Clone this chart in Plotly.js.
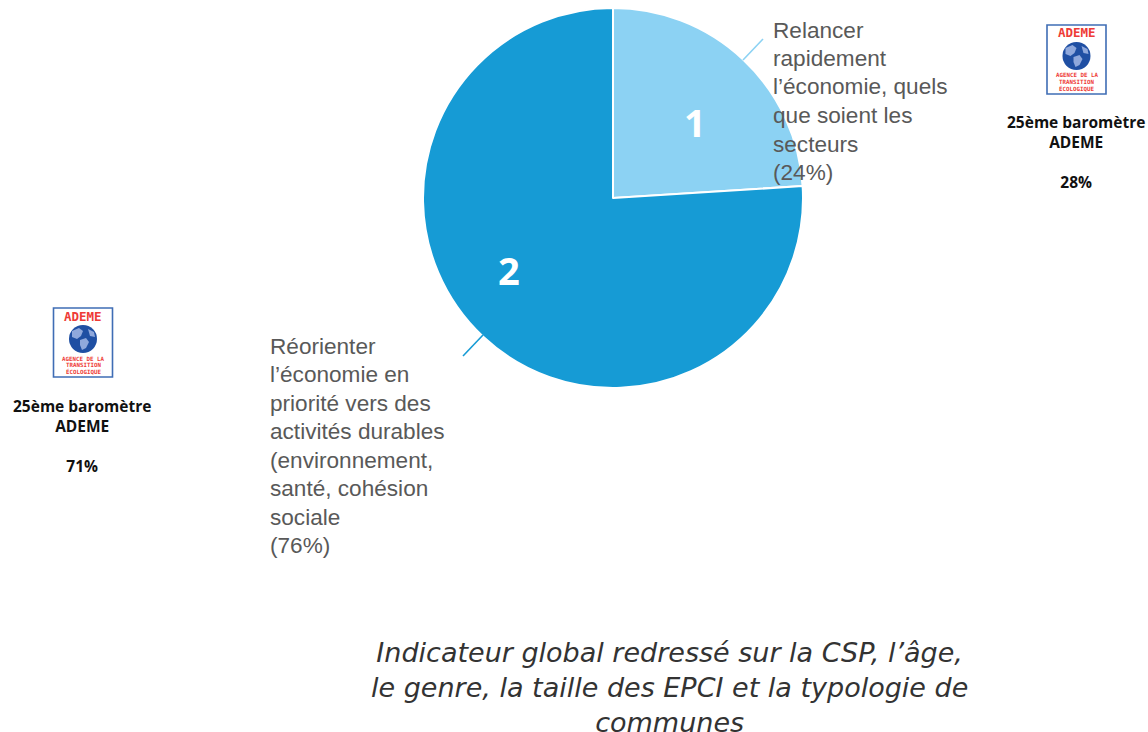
<!DOCTYPE html>
<html><head><meta charset="utf-8">
<script src="https://cdn.plot.ly/plotly-3.0.1.min.js"></script>
<style>html,body{margin:0;padding:0;background:#fff}#c{width:1148px;height:732px}</style>
</head><body><div id="c"></div>
<script>
const sliceIds = ['1','2'];
const sliceValues = [24,76];
const sliceColors = ['#8CD2F3','#169BD5'];
const labelOne = ['Relancer','rapidement','l’économie, quels','que soient les','secteurs','(24%)'];
const labelTwo = ['Réorienter','l’économie en','priorité vers des','activités durables','(environnement,','santé, cohésion','sociale','(76%)'];
const noteLines = ['Indicateur global redressé sur la CSP, l’âge,','le genre, la taille des EPCI et la typologie de','communes'];
const baroRight = ['25ème baromètre','ADEME',' ','28%'];
const baroLeft = ['25ème baromètre','ADEME',' ','71%'];
const W=1148,H=732;
const px=x=>x/W, py=y=>1-y/H;
const annotations=[], shapes=[];
function txt(x,y,t,size,color,fam,anchor){
  annotations.push({xref:'paper',yref:'paper',x:px(x),y:py(y),text:t,showarrow:false,
    xanchor:anchor,yanchor:'middle',align:anchor==='center'?'center':'left',
    font:{size:size,color:color,family:fam},borderpad:0,borderwidth:0});
}
const body='Liberation Sans, Arial, sans-serif';
const gothic='Open Sans, sans-serif';
labelOne.forEach((t,i)=>txt(773,30+i*28.5,t,22.6,'#595959',body,'left'));
labelTwo.forEach((t,i)=>txt(270,346+i*28.5,t,22.6,'#595959',body,'left'));
txt(669,687.5,noteLines.map(t=>'<i>'+t+'</i>').join('<br>'),27,'#333333','DejaVu Sans, sans-serif','center');
txt(695,122,'<b>'+sliceIds[0]+'</b>',38,'#fff',gothic,'center');
txt(509,270,'<b>'+sliceIds[1]+'</b>',38,'#fff',gothic,'center');
function line(x0,y0,x1,y1,c){shapes.push({type:'line',xref:'paper',yref:'paper',x0:px(x0),y0:py(y0),x1:px(x1),y1:py(y1),line:{color:c,width:1.6},layer:'above'});}
line(743,60,763,39,'#8CD2F3');
line(463,356,483,335,'#169BD5');
function logo(cx,top){
  const l=cx-29.5,r=cx+29.5,b=top+69;
  shapes.push({type:'rect',xref:'paper',yref:'paper',x0:px(l),x1:px(r),y0:py(top),y1:py(b),line:{color:'#3F6DB5',width:1.6},fillcolor:'#fff',layer:'above'});
  const gy=top+31;
  shapes.push({type:'circle',xref:'paper',yref:'paper',x0:px(cx-14),x1:px(cx+14),y0:py(gy-14),y1:py(gy+14),line:{width:0},fillcolor:'#1F4FA3',layer:'above'});
  const blob=(pts)=>{const d=pts.map((p,i)=>(i?'L':'M')+px(cx+p[0]).toFixed(5)+','+py(gy+p[1]).toFixed(5)).join(' ')+' Z';
    shapes.push({type:'path',xref:'paper',yref:'paper',path:d,line:{width:0},fillcolor:'#8FA8DC',layer:'above'});};
  blob([[-11,-8],[-4,-11],[0,-8],[-2,-3],[-6,0],[-11,-2]]);
  blob([[-3,1],[3,-1],[6,3],[3,9],[-1,11],[-3,6]]);
  blob([[5,-10],[11,-7],[12,-2],[7,-3]]);
  txt(cx,top+8,'<b>ADEME</b>',12.5,'#EE3B36','DejaVu Sans Mono, monospace','center');
  ['AGENCE DE LA','TRANSITION','ÉCOLOGIQUE'].forEach((t,i)=>txt(cx,top+50.5+i*6.4,'<b>'+t+'</b>',5.8,'#EE3B36','DejaVu Sans Mono, monospace','center'));
}
logo(1076.5,25); logo(83,308);
function baro(cx,y,lines){txt(cx,y,'<b>'+lines.join('<br>')+'</b>',15.5,'#111',gothic,'center');}
baro(1076,152,baroRight);
baro(82,436,baroLeft);
Plotly.newPlot('c',[{type:'pie',values:sliceValues,textinfo:'none',
  sort:false,direction:'clockwise',rotation:0,
  marker:{colors:sliceColors,line:{color:'#fff',width:2}},
  domain:{x:[423/W,803/W],y:[1-388/H,1-8/H]},showlegend:false,hoverinfo:'skip'}],
 {width:W,height:H,margin:{l:0,r:0,t:0,b:0},paper_bgcolor:'#fff',annotations,shapes,showlegend:false},
 {displayModeBar:false,staticPlot:true});
</script></body></html>
